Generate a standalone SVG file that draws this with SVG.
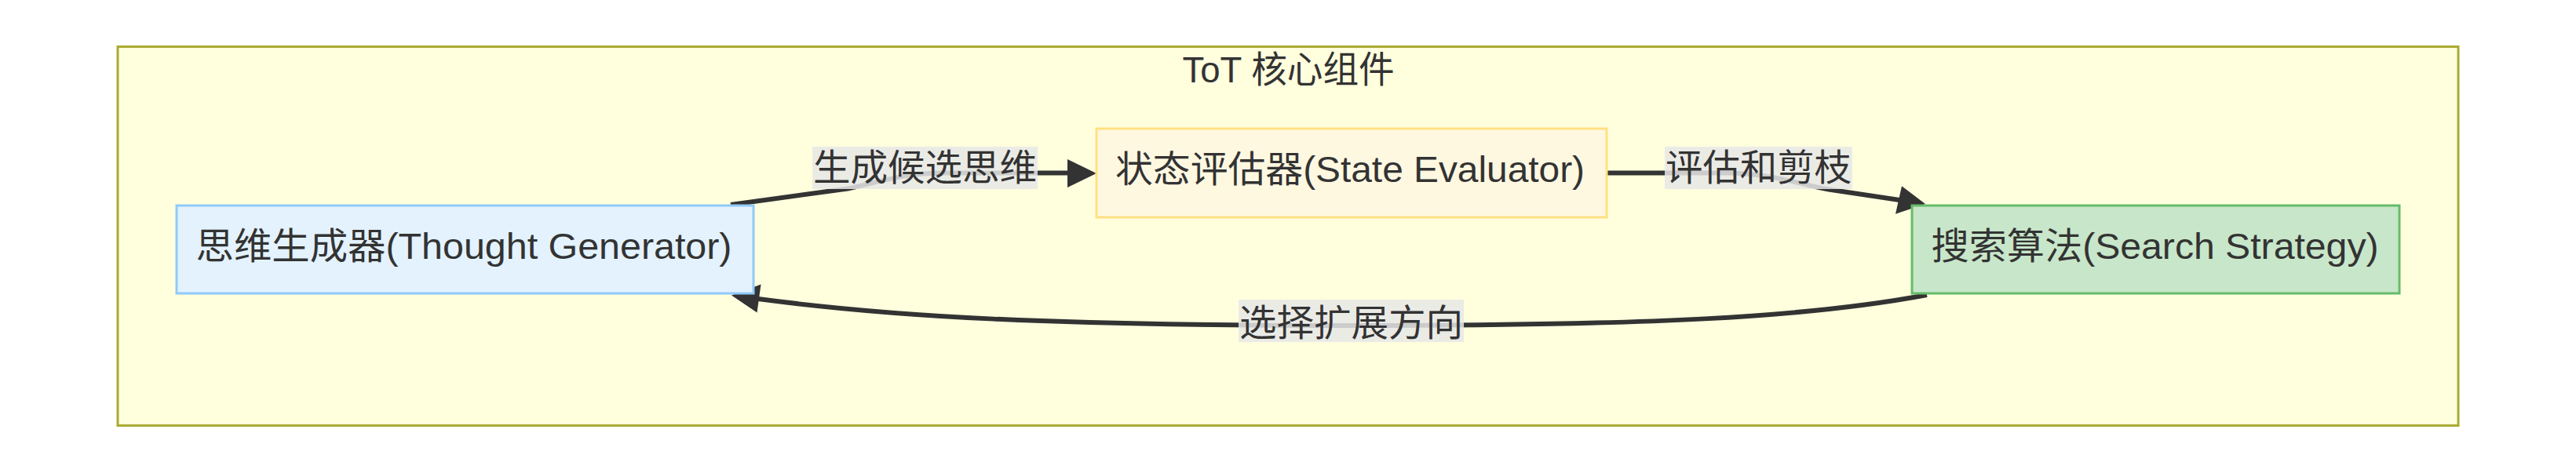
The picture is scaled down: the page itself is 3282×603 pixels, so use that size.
<svg xmlns="http://www.w3.org/2000/svg" width="3282" height="603" viewBox="0 0 3282 603">
<style>
  text { font-family: "Liberation Sans", "Noto Sans CJK SC", sans-serif; fill: #333333; font-size: 47px; text-anchor: middle; }
  .cluster { fill: #ffffde; stroke: #aaaa33; stroke-width: 3; }
  .edge { fill: none; stroke: #333333; stroke-width: 6; }
  .head { fill: #333333; stroke: none; }
  .lbl { fill: #e8e8e8; fill-opacity: 0.85; }
</style>
<rect width="3282" height="603" fill="#ffffff"/>
<g id="cluster-tot">
  <rect class="cluster" x="150" y="59.5" width="2982" height="483"/>
  <text x="1641.5" y="105" textLength="270" lengthAdjust="spacingAndGlyphs">ToT 核心组件</text>
</g>
<g id="connectors">
  <path class="edge" d="M931,261 L1080,240.5 C1120,232 1150,221 1200,220.5 L1362,220.5"/>
  <polygon class="head" points="1397,221 1360,203 1360,239"/>
  <path class="edge" d="M2047,220.5 L2200,220.5 C2260,221 2295,236 2330,241.5 L2420,255"/>
  <polygon class="head" points="2453,260 2423,237.3 2415,272.7"/>
  <path class="edge" d="M2455,376 C2300,405 2100,415 1721,415 C1340,415 1140,404 966,381"/>
  <polygon class="head" points="932,376.5 969.5,362.5 964.5,398.5"/>
</g>
<g id="edge-label-1">
  <rect class="lbl" x="1035" y="187" width="287" height="54"/>
  <text x="1178.5" y="230" textLength="285" lengthAdjust="spacingAndGlyphs">生成候选思维</text>
</g>
<g id="edge-label-2">
  <rect class="lbl" x="2121" y="187" width="239" height="54"/>
  <text x="2240.5" y="230" textLength="237" lengthAdjust="spacingAndGlyphs">评估和剪枝</text>
</g>
<g id="edge-label-3">
  <rect class="lbl" x="1578" y="382" width="287" height="54"/>
  <text x="1721.5" y="428" textLength="285" lengthAdjust="spacingAndGlyphs">选择扩展方向</text>
</g>
<g id="node-thought-generator">
  <rect x="225" y="262" width="735" height="112" fill="#e3f2fd" stroke="#90caf9" stroke-width="3"/>
  <text x="591" y="330" textLength="683" lengthAdjust="spacingAndGlyphs">思维生成器(Thought Generator)</text>
</g>
<g id="node-state-evaluator">
  <rect x="1397" y="164" width="650" height="113" fill="#fff8e1" stroke="#ffe082" stroke-width="3"/>
  <text x="1720" y="232" textLength="598" lengthAdjust="spacingAndGlyphs">状态评估器(State Evaluator)</text>
</g>
<g id="node-search-strategy">
  <rect x="2436" y="262" width="621" height="112" fill="#c8e6c9" stroke="#66bb6a" stroke-width="3"/>
  <text x="2745.5" y="330" textLength="570" lengthAdjust="spacingAndGlyphs">搜索算法(Search Strategy)</text>
</g>
</svg>
